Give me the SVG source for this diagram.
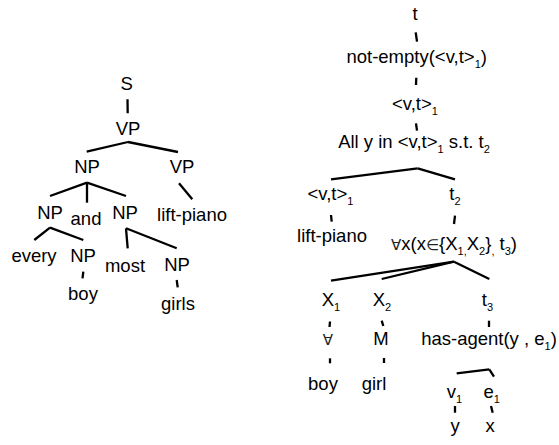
<svg xmlns="http://www.w3.org/2000/svg" width="559" height="445" viewBox="0 0 559 445">
<style>
text{font-family:"Liberation Sans",Arial,sans-serif;font-size:18.5px;fill:#000;text-anchor:middle}
.s{font-size:11px}
.sym{font-family:"DejaVu Sans","Liberation Sans",sans-serif;font-size:15px;fill:#222}
#connectors line{stroke:#000;stroke-width:2.3;stroke-linecap:butt}
</style>
<rect width="559" height="445" fill="#fff"/>
<g id="connectors">
<line x1="127.5" y1="99.3" x2="127.7" y2="113.3"/>
<line x1="128" y1="142" x2="86.7" y2="151.7"/>
<line x1="128" y1="142" x2="178" y2="152"/>
<line x1="87" y1="182.7" x2="50" y2="196"/>
<line x1="87" y1="182.7" x2="87" y2="202.7"/>
<line x1="87" y1="182.7" x2="126" y2="196"/>
<line x1="179" y1="183.3" x2="192.3" y2="199.3"/>
<line x1="50" y1="227.7" x2="34.3" y2="240"/>
<line x1="50" y1="227.7" x2="83.3" y2="240"/>
<line x1="126" y1="228.3" x2="127.7" y2="248.3"/>
<line x1="126" y1="228.3" x2="176.7" y2="248.3"/>
<line x1="83.3" y1="271.7" x2="82.5" y2="278.3"/>
<line x1="176.7" y1="280" x2="177.7" y2="287.3"/>
<line x1="415.7" y1="32.3" x2="417" y2="41.7"/>
<line x1="416.3" y1="77.7" x2="416" y2="85"/>
<line x1="416" y1="123.3" x2="417" y2="130.7"/>
<line x1="417.7" y1="168.3" x2="331" y2="179.3"/>
<line x1="417.7" y1="168.3" x2="455" y2="179.3"/>
<line x1="331" y1="215" x2="331.7" y2="221.7"/>
<line x1="455" y1="215.7" x2="454" y2="224"/>
<line x1="454" y1="261.7" x2="331" y2="280.7"/>
<line x1="454" y1="261.7" x2="381.7" y2="279"/>
<line x1="454" y1="261.7" x2="489.3" y2="279"/>
<line x1="330" y1="321.5" x2="329.5" y2="327"/>
<line x1="381.7" y1="320.7" x2="383.3" y2="326"/>
<line x1="489" y1="320.7" x2="489" y2="327"/>
<line x1="330" y1="358.3" x2="330" y2="363.3"/>
<line x1="384" y1="358" x2="384" y2="363"/>
<line x1="456.7" y1="373.3" x2="489.3" y2="369.3"/>
<line x1="489.3" y1="369.3" x2="494" y2="376.7"/>
<line x1="455" y1="406" x2="455" y2="412.7"/>
<line x1="491" y1="406" x2="492.7" y2="412.7"/>
</g>
<g id="n-S"><text x="126.7" y="89.5">S</text></g>
<g id="n-VP"><text x="128" y="135">VP</text></g>
<g id="n-NP"><text x="87" y="173">NP</text></g>
<g id="n-VP2"><text x="182" y="173">VP</text></g>
<g id="n-NP-l"><text x="50" y="219">NP</text></g>
<g id="n-and"><text x="86" y="225">and</text></g>
<g id="n-NP-r"><text x="125" y="219">NP</text></g>
<g id="n-liftpiano"><text x="192" y="221">lift-piano</text></g>
<g id="n-every"><text x="34" y="262">every</text></g>
<g id="n-NP-boy"><text x="83" y="262">NP</text></g>
<g id="n-most"><text x="125" y="272">most</text></g>
<g id="n-NP-girls"><text x="177" y="271">NP</text></g>
<g id="n-boy"><text x="83" y="300">boy</text></g>
<g id="n-girls"><text x="178" y="310">girls</text></g>

<g id="r-t"><text x="415" y="20">t</text></g>
<g id="r-notempty"><text x="416.7" y="63">not-empty(&lt;v,t&gt;<tspan class="s" dy="5">1</tspan><tspan dy="-5">)</tspan></text></g>
<g id="r-vt"><text x="415" y="110">&lt;v,t&gt;<tspan class="s" dy="5">1</tspan></text></g>
<g id="r-all"><text x="414" y="148">All y in &lt;v,t&gt;<tspan class="s" dy="5">1</tspan><tspan dy="-5"> s.t. t</tspan><tspan class="s" dy="5">2</tspan></text></g>
<g id="r-vt1"><text x="330.5" y="200">&lt;v,t&gt;<tspan class="s" dy="5">1</tspan></text></g>
<g id="r-t2"><text x="455" y="200">t<tspan class="s" dy="5">2</tspan></text></g>
<g id="r-liftpiano"><text x="332" y="242">lift-piano</text></g>
<g id="r-forall"><text x="454" y="250"><tspan class="sym">∀</tspan>x(x<tspan class="sym">∈</tspan>{X<tspan class="s" dy="5">1,</tspan><tspan dy="-5">X</tspan><tspan class="s" dy="5">2</tspan><tspan dy="-5">}</tspan><tspan class="s" dy="5">,</tspan><tspan dy="-5"> t</tspan><tspan class="s" dy="5">3</tspan><tspan dy="-5">)</tspan></text></g>
<g id="r-X1"><text x="331" y="306">X<tspan class="s" dy="5">1</tspan></text></g>
<g id="r-X2"><text x="382" y="306">X<tspan class="s" dy="5">2</tspan></text></g>
<g id="r-t3"><text x="487.5" y="306">t<tspan class="s" dy="5">3</tspan></text></g>
<g id="r-all-sym"><text class="sym" x="328" y="345">∀</text></g>
<g id="r-M"><text x="381" y="345">M</text></g>
<g id="r-hasagent"><text x="489" y="345">has-agent(y , e<tspan class="s" dy="5">1</tspan><tspan dy="-5">)</tspan></text></g>
<g id="r-boy"><text x="323" y="390">boy</text></g>
<g id="r-girl"><text x="374" y="390">girl</text></g>
<g id="r-v1"><text x="454.5" y="398">v<tspan class="s" dy="5">1</tspan></text></g>
<g id="r-e1"><text x="491.7" y="398">e<tspan class="s" dy="5">1</tspan></text></g>
<g id="r-y"><text x="455" y="432">y</text></g>
<g id="r-x"><text x="490" y="432">x</text></g>
</svg>
